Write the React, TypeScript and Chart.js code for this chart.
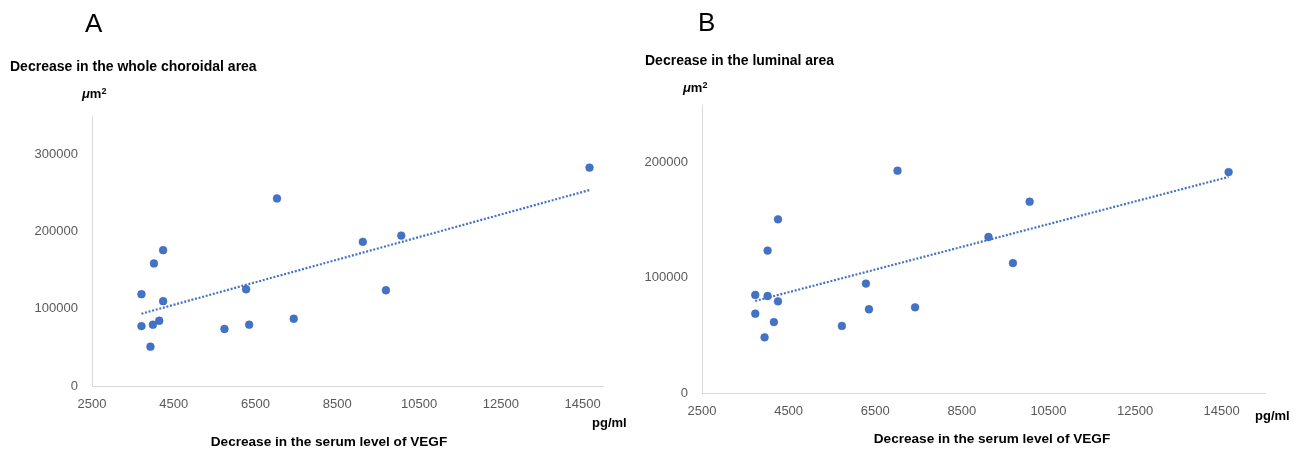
import React, { useEffect, useRef } from "react";
import { Chart, registerables } from "chart.js";

Chart.register(...registerables);

// Panel A: Decrease in the whole choroidal area vs decrease in serum VEGF
const vegfA = [3710, 3710, 3930, 3990, 4015, 4145, 4240, 4240, 5740, 6270, 6345, 7025, 7435, 9125, 9690, 10065, 14670];
const choroidA = [119000, 77700, 51000, 79500, 158900, 84600, 176100, 110000, 73900, 125400, 79500, 243100, 87200, 186900, 124100, 195000, 283100];

// Panel B: Decrease in the luminal area vs decrease in serum VEGF
const vegfB = [3730, 3730, 3945, 4015, 4015, 4160, 4255, 4255, 5730, 6285, 6355, 7015, 7420, 9115, 9680, 10065, 14660];
const luminalB = [85100, 68900, 48300, 123600, 84200, 61600, 150800, 79600, 58200, 95000, 72700, 193000, 74400, 135400, 112800, 166100, 191800];

const xTicks = [2500, 4500, 6500, 8500, 10500, 12500, 14500];
const yTicksA = [0, 100000, 200000, 300000];
const yTicksB = [0, 100000, 200000];

const BLUE = "#4472C4";
const TICK_COLOR = "#595959";
const AXIS_COLOR = "#D9D9D9";
const FONT = "'Liberation Sans', Arial, sans-serif";

function regression(xs: number[], ys: number[]) {
  const n = xs.length;
  const mx = xs.reduce((a, b) => a + b, 0) / n;
  const my = ys.reduce((a, b) => a + b, 0) / n;
  let sxy = 0, sxx = 0;
  for (let i = 0; i < n; i++) {
    sxy += (xs[i] - mx) * (ys[i] - my);
    sxx += (xs[i] - mx) * (xs[i] - mx);
  }
  const b = sxy / sxx;
  const a = my - b * mx;
  const x0 = Math.min(...xs);
  const x1 = Math.max(...xs);
  return [
    { x: x0, y: a + b * x0 },
    { x: x1, y: a + b * x1 },
  ];
}

type PanelProps = {
  xs: number[];
  ys: number[];
  yTicks: number[];
  yMax: number;
  xMax: number;
  width: number;
  height: number;
  yWidth: number;
  padTop: number;
  padRight: number;
  padBottom: number;
  xHeight: number;
};

function ScatterPanel(p: PanelProps) {
  const ref = useRef<HTMLCanvasElement>(null);
  useEffect(() => {
    if (!ref.current) return;
    const points = p.xs.map((x, i) => ({ x, y: p.ys[i] }));
    const chart = new Chart(ref.current, {
      type: "scatter",
      data: {
        datasets: [
          {
            type: "scatter",
            data: points,
            backgroundColor: BLUE,
            borderColor: "#3A66B8",
            borderWidth: 0.5,
            pointRadius: 3.9,
            order: 0,
          },
          {
            type: "line",
            data: regression(p.xs, p.ys),
            borderColor: BLUE,
            borderWidth: 2.2,
            borderDash: [2, 1.7],
            pointRadius: 0,
            fill: false,
            order: 1,
          },
        ],
      },
      options: {
        responsive: false,
        animation: false,
        events: [],
        layout: {
          padding: { left: 0, top: p.padTop, right: p.padRight, bottom: p.padBottom },
        },
        plugins: {
          legend: { display: false },
          tooltip: { enabled: false },
          title: { display: false },
        },
        scales: {
          x: {
            type: "linear",
            min: 2500,
            max: p.xMax,
            grid: { display: false, drawTicks: false },
            border: { display: true, color: AXIS_COLOR, width: 1 },
            ticks: {
              color: TICK_COLOR,
              font: { family: FONT, size: 13 },
              padding: 11,
              maxRotation: 0,
              autoSkip: false,
              callback: (v: any) => String(v),
            },
            afterBuildTicks: (scale: any) => {
              scale.ticks = xTicks.map((v) => ({ value: v }));
            },
            afterFit: (scale: any) => {
              scale.height = p.xHeight;
            },
          },
          y: {
            type: "linear",
            min: 0,
            max: p.yMax,
            grid: { display: false, drawTicks: false },
            border: { display: true, color: AXIS_COLOR, width: 1 },
            ticks: {
              color: TICK_COLOR,
              font: { family: FONT, size: 13 },
              padding: 14,
              autoSkip: false,
              callback: (v: any) => String(v),
            },
            afterBuildTicks: (scale: any) => {
              scale.ticks = p.yTicks.map((v) => ({ value: v }));
            },
            afterFit: (scale: any) => {
              scale.width = p.yWidth;
            },
          },
        },
      },
    } as any);
    return () => chart.destroy();
  }, []);
  return <canvas ref={ref} width={p.width} height={p.height} style={{ display: "block" }} />;
}

const txt = (
  content: React.ReactNode,
  left: number,
  top: number,
  size: number,
  bold: boolean,
  extra: React.CSSProperties = {}
) => (
  <div
    style={{
      position: "absolute",
      left,
      top,
      fontFamily: FONT,
      fontSize: size,
      fontWeight: bold ? 700 : 400,
      lineHeight: "16px",
      color: "#000",
      whiteSpace: "nowrap",
      ...extra,
    }}
  >
    {content}
  </div>
);

const unit = (
  <span>
    <i>μ</i>m<sup style={{ fontSize: 9, verticalAlign: "top", lineHeight: "10px" }}>2</sup>
  </span>
);

export default function App() {
  return (
    <div
      style={{
        position: "absolute",
        left: 0,
        top: 0,
        width: 1300,
        height: 449,
        background: "#fff",
        overflow: "hidden",
      }}
    >
      <div style={{ position: "absolute", left: 0, top: 0 }}>
        <ScatterPanel
          xs={vegfA}
          ys={choroidA}
          yTicks={yTicksA}
          yMax={350000}
          xMax={15000}
          width={640}
          height={449}
          yWidth={92}
          padTop={116}
          padRight={37}
          padBottom={33}
          xHeight={30}
        />
      </div>
      <div style={{ position: "absolute", left: 640, top: 0 }}>
        <ScatterPanel
          xs={vegfB}
          ys={luminalB}
          yTicks={yTicksB}
          yMax={250000}
          xMax={15500}
          width={660}
          height={449}
          yWidth={62}
          padTop={105}
          padRight={35}
          padBottom={26}
          xHeight={30}
        />
      </div>

      {txt("A", 85, 8, 26, false, { lineHeight: "30px" })}
      {txt("Decrease in the whole choroidal area", 10, 58, 14, true)}
      {txt(unit, 82, 86, 13, true)}
      {txt("pg/ml", 592, 415, 13, true)}
      {txt("Decrease in the serum level of VEGF", 129, 434, 13.6, true, { width: 400, textAlign: "center" })}

      {txt("B", 698, 7, 26, false, { lineHeight: "30px" })}
      {txt("Decrease in the luminal area", 645, 52, 14, true)}
      {txt(unit, 683, 80, 13, true)}
      {txt("pg/ml", 1255, 408, 13, true)}
      {txt("Decrease in the serum level of VEGF", 792, 431, 13.6, true, { width: 400, textAlign: "center" })}
    </div>
  );
}
